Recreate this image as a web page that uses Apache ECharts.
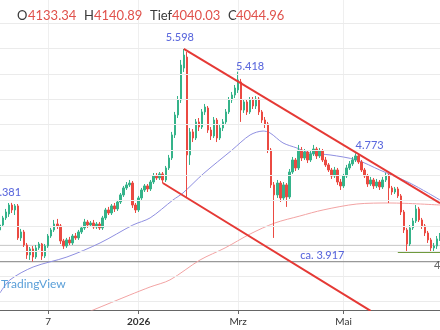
<!DOCTYPE html>
<html><head><meta charset="utf-8">
<script src="https://cdn.jsdelivr.net/npm/echarts@6/dist/echarts.min.js"></script>
<style>html,body{margin:0;padding:0;background:#fff}#c{width:440px;height:330px}</style>
</head><body><div id="c"></div>
<script>
const opens = [4167,4206,4262,4293,4364,4325,4357,4104,4151,4048,3969,4017,3953,4025,4056,3961,4040,4119,4167,4214,4199,4080,4040,4088,4064,4119,4104,4151,4183,4230,4206,4222,4191,4214,4183,4262,4325,4301,4357,4333,4388,4444,4499,4523,4538,4364,4325,4420,4483,4515,4491,4546,4594,4578,4610,4562,4657,4736,4918,5076,5195,5447,5534,4760,4942,4894,5021,4981,5100,5131,4957,4910,5036,4894,4973,5021,5100,5195,5234,5274,5337,5115,5179,5100,5195,5147,5202,5100,5036,5005,4799,4523,4444,4538,4420,4523,4428,4625,4720,4657,4799,4736,4783,4720,4768,4807,4752,4791,4720,4681,4641,4594,4641,4546,4515,4594,4657,4689,4720,4752,4704,4641,4594,4530,4562,4515,4546,4507,4562,4594,4499,4467,4491,4436,4309,4167,4056,4183,4238,4333,4246,4199,4143,4088,4025,4040,4096];
const closes = [4206,4262,4309,4364,4325,4357,4104,4151,4048,3969,4017,3953,4025,4056,3961,4040,4119,4167,4214,4199,4080,4040,4088,4064,4119,4104,4151,4183,4230,4206,4222,4191,4214,4183,4262,4325,4301,4357,4333,4388,4444,4499,4523,4538,4364,4325,4420,4483,4515,4491,4546,4594,4578,4610,4562,4657,4736,4918,5076,5195,5471,5550,4760,4942,4894,5021,4981,5100,5139,4957,4910,5036,4894,4973,5021,5100,5195,5234,5289,5353,5115,5179,5100,5195,5147,5202,5100,5036,5005,4799,4523,4444,4538,4420,4523,4428,4625,4720,4657,4799,4736,4783,4720,4768,4807,4752,4791,4720,4681,4641,4594,4641,4546,4515,4594,4657,4689,4720,4752,4704,4641,4594,4530,4562,4515,4546,4507,4562,4594,4499,4467,4491,4436,4309,4167,4056,4183,4238,4333,4246,4199,4143,4088,4025,4040,4096,4127];
const lows = [4151,4191,4246,4270,4301,4285,4088,4080,4032,3938,3930,3917,3938,4009,3930,3945,4025,4104,4151,4175,4056,4017,4025,4048,4048,4088,4088,4135,4167,4183,4191,4175,4175,4167,4167,4246,4285,4285,4309,4317,4372,4428,4483,4507,4341,4301,4309,4404,4467,4467,4475,4530,4562,4562,4538,4546,4641,4720,4894,5052,5171,5416,4428,4681,4862,4878,4949,4965,5076,4934,4878,4894,4862,4878,4949,5005,5084,5171,5210,5250,5021,5092,5076,5084,5123,5123,5076,5013,4973,4775,4499,4104,4420,4388,4404,4349,4412,4610,4633,4641,4712,4720,4696,4704,4752,4728,4736,4704,4665,4625,4570,4578,4523,4483,4499,4578,4641,4673,4704,4689,4625,4578,4507,4515,4491,4499,4483,4491,4546,4380,4444,4451,4420,4285,4143,3998,4040,4167,4222,4230,4175,4119,4064,3995,3995,4017,4080];
const highs = [4230,4278,4333,4380,4381,4372,4372,4175,4167,4064,4032,4040,4048,4072,4064,4056,4135,4183,4246,4254,4214,4096,4104,4112,4135,4143,4167,4199,4254,4246,4238,4246,4230,4230,4278,4341,4349,4372,4380,4404,4459,4515,4546,4562,4554,4380,4436,4499,4530,4530,4562,4617,4617,4625,4625,4673,4760,4942,5100,5226,5511,5598,5574,4973,4965,5044,5052,5123,5163,5147,4981,5060,5052,4997,5044,5123,5218,5258,5313,5418,5361,5202,5195,5218,5218,5226,5218,5115,5060,5021,4815,4546,4562,4554,4546,4538,4649,4744,4736,4839,4823,4807,4799,4791,4839,4823,4815,4807,4744,4696,4657,4665,4657,4570,4610,4681,4712,4744,4773,4768,4720,4657,4610,4586,4578,4570,4562,4586,4617,4610,4515,4507,4507,4451,4325,4183,4206,4262,4364,4349,4262,4214,4159,4104,4064,4119,4143];

const tickIdx = [16, 46, 79, 114];
const tickText = ['7', '2026', 'Mrz', 'Mai'];
const gridLevels = [3600,3800,4000,4200,4400,4600,4800,5000,5200,5400,5600,5800];

const maFastX = [0,3.3,11,22.2,33.2,44.1,49.8,57.4,60.7,67.4,77,83,87.3,89.6,93.9,98.5,102.9,109.5,118.4,126,136,146];
const maFastY = [3669,3772,3874,3953,4064,4206,4262,4404,4459,4610,4799,4918,4949,4934,4855,4815,4775,4760,4720,4641,4538,4404];
const maSlowX = [28,30.9,43.1,49.8,56.4,66.4,74.7,83,91.2,99.5,107.2,118.4,129.4,146];
const maSlowY = [3505,3534,3653,3716,3772,3930,4025,4135,4222,4277,4325,4372,4380,4364];

const upperTrendX = [61, 146], upperTrendY = [5598, 4378];
const lowerTrendX = [54, 123], lowerTrendY = [4538, 3527];

const closeLine = 4045;
const supportLine = 3917;
const greenLineX = [132, 146], greenLineY = [3993, 3993];

const noteIdx = [61, 79, 118, 4, 100, 146];
const notePrice = [5598, 5418, 4773, 4381, 3917, 4045];
const noteText = ['5.598', '5.418', '4.773', '4.381', 'ca. 3.917', '4.045'];
const noteOffset = [[-4,-11],[12,-5],[14,-8],[-5,-10],[21,-6],[8,20]];
const noteColor = ['#3344d4','#3344d4','#3344d4','#3344d4','#3344d4','#444'];

const headerKeys = ['O', 'H', 'Tief', 'C'];
const headerVals = ['4133.34', '4140.89', '4040.03', '4044.96'];
const headerKeyLeft = [17, 84, 150, 228];
const headerValLeft = [28, 94, 172, 236];

const categories = closes.map((_, i) => String(i));
const candles = opens.map((o, i) => [o, closes[i], lows[i], highs[i]]);
const pairs = (xs, ys) => xs.map((x, i) => [x, ys[i]]);

const headerGraphics = [];
headerKeys.forEach((k, i) => {
  headerGraphics.push({ type: 'text', left: headerKeyLeft[i], top: 9, z: 100,
    style: { text: k, fill: '#3a3a3a', font: '13px Lato' } });
  headerGraphics.push({ type: 'text', left: headerValLeft[i], top: 9, z: 100,
    style: { text: headerVals[i], fill: '#e0514b', font: '13px Lato' } });
});
headerGraphics.push({ type: 'text', left: 1, top: 278, z: 100,
  style: { text: 'TradingView', fill: '#5a9fd8', font: '12px Lato' } });

const chart = echarts.init(document.getElementById('c'));
chart.setOption({
  animation: false,
  backgroundColor: '#fff',
  graphic: headerGraphics,
  grid: { left: 0, right: 0, top: 0, bottom: 20 },
  xAxis: [{
    type: 'category', data: categories, boundaryGap: false,
    axisLine: { lineStyle: { color: '#666', width: 1 } },
    axisTick: { show: true, length: 4, interval: (i) => tickIdx.includes(i), lineStyle: { color: '#666' } },
    splitLine: { show: true, interval: (i) => tickIdx.includes(i), lineStyle: { color: '#efefef', width: 1 } },
    axisLabel: {
      interval: (i) => tickIdx.includes(i), margin: 7, fontSize: 10, color: '#333', fontFamily: 'Lato',
      formatter: (v, i) => { const k = tickIdx.indexOf(Number(v)); if (k < 0) return ''; return tickText[k] === '2026' ? '{b|2026}' : tickText[k]; },
      rich: { b: { fontWeight: 'bold', fontSize: 10, color: '#333', fontFamily: 'Lato' } }
    }
  }, {
    type: 'value', min: 0, max: 146, show: false
  }],
  yAxis: { type: 'value', min: 3534, max: 5985, show: false, splitLine: { show: false } },
  series: [
    { type: 'line', data: [], z: 0, markLine: { silent: true, symbol: 'none', label: { show: false },
        lineStyle: { color: '#ebebeb', width: 1, type: 'solid' }, data: gridLevels.map(v => ({ yAxis: v })) } },
    { type: 'line', xAxisIndex: 1, data: pairs([0, 146], [closeLine, closeLine]), symbol: 'none', z: 1,
      lineStyle: { color: '#c6c6c6', width: 1 } },
    { type: 'line', xAxisIndex: 1, data: pairs([0, 146], [supportLine, supportLine]), symbol: 'none', z: 1,
      lineStyle: { color: '#999', width: 1.2 } },
    { type: 'line', xAxisIndex: 1, data: pairs(maSlowX, maSlowY), symbol: 'none', smooth: 0.3, z: 2,
      lineStyle: { color: '#f2a3a3', width: 1 } },
    { type: 'line', xAxisIndex: 1, data: pairs(maFastX, maFastY), symbol: 'none', smooth: 0.3, z: 2,
      lineStyle: { color: '#8f8fe0', width: 1 } },
    { type: 'candlestick', data: candles, barWidth: 2, z: 3,
      itemStyle: { color: '#35b38a', color0: '#eb4a42', borderColor: '#35b38a', borderColor0: '#eb4a42', borderWidth: 1 } },
    { type: 'line', xAxisIndex: 1, data: pairs(greenLineX, greenLineY), symbol: 'none', z: 4,
      lineStyle: { color: '#6f9a3e', width: 2 } },
    { type: 'line', xAxisIndex: 1, data: pairs(upperTrendX, upperTrendY), symbol: 'none', z: 5,
      lineStyle: { color: '#e53935', width: 2 } },
    { type: 'line', xAxisIndex: 1, data: pairs(lowerTrendX, lowerTrendY), symbol: 'none', z: 5,
      lineStyle: { color: '#e53935', width: 2 } },
    { type: 'scatter', xAxisIndex: 1, symbolSize: 1, z: 6, itemStyle: { color: 'transparent' },
      data: noteIdx.map((x, i) => ({ value: [x, notePrice[i]],
        label: { show: true, position: 'inside', formatter: noteText[i], offset: noteOffset[i],
                 color: noteColor[i], fontSize: 11, fontWeight: 500, fontFamily: 'Lato' } })) }
  ]
});
</script></body></html>
